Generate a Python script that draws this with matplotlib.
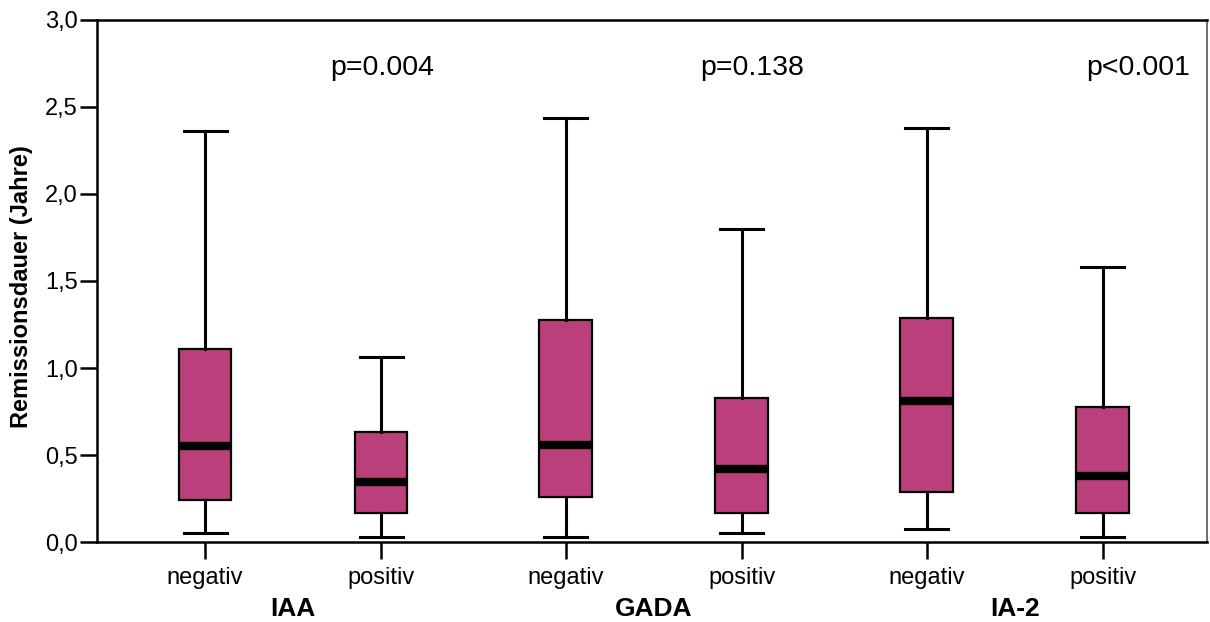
import matplotlib
matplotlib.use("Agg")
import matplotlib.pyplot as plt

plt.rcParams['font.family'] = ['Liberation Sans', 'DejaVu Sans']

# Box statistics (Remissionsdauer in Jahren)
tick_labels = ['negativ', 'positiv', 'negativ', 'positiv', 'negativ', 'positiv']
groups = ['IAA', 'GADA', 'IA-2']
p_values = ['p=0.004', 'p=0.138', 'p<0.001']

whislo = [0.056, 0.033, 0.033, 0.056, 0.075, 0.033]
q1 = [0.245, 0.168, 0.262, 0.168, 0.287, 0.168]
med = [0.555, 0.344, 0.557, 0.419, 0.809, 0.383]
q3 = [1.108, 0.633, 1.274, 0.826, 1.285, 0.776]
whishi = [2.36, 1.065, 2.437, 1.80, 2.38, 1.583]

positions = [0, 1, 2.05, 3.05, 4.1, 5.1]
fill = '#BA3F7A'

stats = []
for i in range(len(tick_labels)):
    stats.append({'whislo': whislo[i], 'q1': q1[i], 'med': med[i],
                  'q3': q3[i], 'whishi': whishi[i], 'fliers': []})

fig = plt.figure(figsize=(12.1, 6.22), dpi=100)
ax = fig.add_axes([0.0802, 0.1280, 0.9173, 0.8405])

ax.bxp(stats, positions=positions, widths=0.30, patch_artist=True,
       showfliers=False,
       boxprops=dict(facecolor=fill, edgecolor='black', linewidth=1.6),
       medianprops=dict(color='black', linewidth=6.0, solid_capstyle='butt'),
       whiskerprops=dict(color='black', linewidth=2.2),
       capprops=dict(color='black', linewidth=2.2),
       capwidths=0.245)

ax.set_xlim(-0.614, 5.693)
ax.set_ylim(0, 3.0)
ax.set_yticks([0, 0.5, 1.0, 1.5, 2.0, 2.5, 3.0])
ax.set_yticklabels(['0,0', '0,5', '1,0', '1,5', '2,0', '2,5', '3,0'])
ax.set_xticks(positions)
ax.set_xticklabels(tick_labels)
ax.tick_params(axis='both', direction='out', length=12, width=1.8,
               labelsize=17, color='black')
ax.tick_params(axis='x', pad=6)
ax.tick_params(axis='y', pad=2)

for s in ax.spines.values():
    s.set_linewidth(1.8)
ax.spines['right'].set_color('#555555')
ax.spines['right'].set_linewidth(1.2)

ax.set_ylabel('Remissionsdauer (Jahre)', fontsize=17, fontweight='bold')
ax.yaxis.set_label_coords(-0.0577, 0.49)

# group names under the tick labels
for g, gx in zip(groups, [0.5, 2.55, 4.6]):
    ax.text(gx, -0.38, g, ha='center', va='center', fontsize=19,
            fontweight='bold', clip_on=False)

# p-values
for p, px in zip(p_values, [1.006, 3.108, 5.30]):
    ax.text(px, 2.72, p, ha='center', va='center', fontsize=20.5)

plt.savefig('out.png', dpi=100)
